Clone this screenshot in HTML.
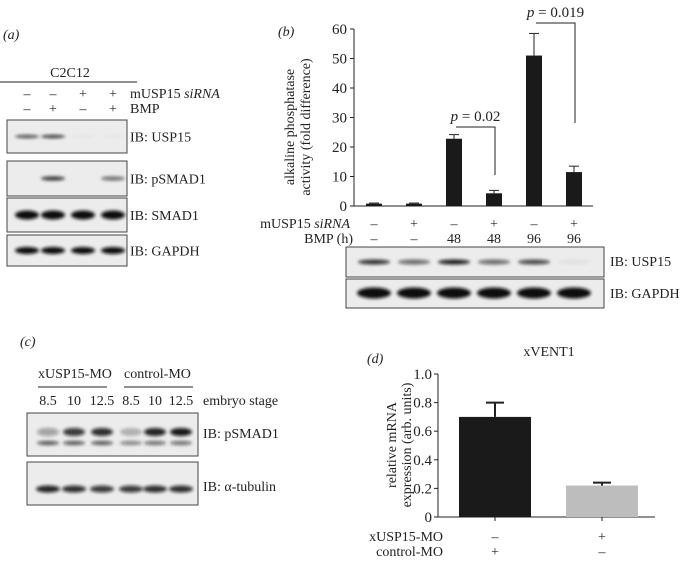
<!DOCTYPE html>
<html><head><meta charset="utf-8"><style>
body{margin:0;background:#fff;width:688px;height:561px;overflow:hidden}
svg{display:block}
text{font-family:"Liberation Serif",serif;fill:#222}
</style></head><body>
<svg id="fig" width="688" height="561" viewBox="0 0 688 561">
<defs><filter id="bl" x="-20%" y="-100%" width="140%" height="300%"><feGaussianBlur stdDeviation="1.6"/></filter></defs>
<g id="pa"></g>
<g id="pb"></g>
<g id="pc"></g>
<g id="pd"></g>
</svg>
<script>
// Panel b data
const bCats=['1','2','3','4','5','6'];
const bVals=[0.8,0.8,22.8,4.3,51,11.5];
const bErr=[0.2,0.2,1.4,1.0,7.5,2.0];
const bSi=['–','+','–','+','–','+'];
const bBmp=['–','–','48','48','96','96'];
const bTicks=[0,10,20,30,40,50,60];
// Panel d data
const dCats=['ctrl','xusp'];
const dVals=[0.70,0.22];
const dErr=[0.10,0.02];
const dTicks=['0','0.2','0.4','0.6','0.8','1.0'];
const dMO=['–','+'];
const dCtrl=['+','–'];

const NS='http://www.w3.org/2000/svg';
const FS=14;
function mk(p,tag,at,txt){const e=document.createElementNS(NS,tag);for(const k in at)e.setAttribute(k,at[k]);if(txt!==undefined)e.textContent=txt;p.appendChild(e);return e;}
function band(p,x,y,w,h,o){const e=mk(p,'ellipse',{cx:x,cy:y,rx:w/2,ry:h/2,fill:'#111','fill-opacity':o,filter:'url(#bl)'});

}
function box(p,x,y,w,h,name){const e=mk(p,'rect',{x:x,y:y,width:w,height:h,fill:'#ececec',stroke:'#444','stroke-width':1});

}

// ---- Panel a
const pa=document.getElementById('pa');
mk(pa,'text',{x:3,y:39,'font-size':FS,'font-style':'italic'},'(a)');
mk(pa,'text',{x:70,y:77,'font-size':FS,'text-anchor':'middle'},'C2C12');
mk(pa,'line',{x1:0,y1:82,x2:137,y2:82,stroke:'#222'});
const aX=[27,53,83,113];
['–','–','+','+'].forEach((s,i)=>mk(pa,'text',{x:aX[i],y:98,'font-size':FS,'text-anchor':'middle'},s));
['–','+','–','+'].forEach((s,i)=>mk(pa,'text',{x:aX[i],y:113,'font-size':FS,'text-anchor':'middle'},s));
const t1=mk(pa,'text',{x:130,y:98,'font-size':FS},'mUSP15 ');mk(t1,'tspan',{'font-style':'italic'},'siRNA');
mk(pa,'text',{x:130,y:113,'font-size':FS},'BMP');
const aBl=[['IB: USP15',120,33,[0.8,0.9,0.03,0.03],3],['IB: pSMAD1',161,35,[0,0.85,0,0.6],4],['IB: SMAD1',198,34,[1,1,1,1],9],['IB: GAPDH',235,31,[1,1,1,1],7]];
aBl.forEach(b=>{box(pa,7,b[1],120,b[2],'blot-a');b[3].forEach((o,i)=>{if(o>0)band(pa,aX[i],b[1]+b[2]/2,24,b[4],o)});
mk(pa,'text',{x:130,y:b[1]+b[2]/2+5,'font-size':FS},b[0]);});

// ---- Panel b
const pb=document.getElementById('pb');
const bx0=354,bx1=593,by0=206,byTop=29;
const yB=v=>by0-(v/60)*(by0-byTop);
const xB=i=>374+i*40;
mk(pb,'text',{x:278,y:36,'font-size':FS,'font-style':'italic'},'(b)');
mk(pb,'line',{x1:bx0,y1:yB(60),x2:bx0,y2:by0,stroke:'#222'});
mk(pb,'line',{x1:bx0,y1:by0,x2:bx1,y2:by0,stroke:'#222'});
bTicks.forEach(t=>{mk(pb,'line',{x1:bx0-4,y1:yB(t),x2:bx0,y2:yB(t),stroke:'#222'});
mk(pb,'text',{x:bx0-7,y:yB(t)+5,'font-size':15,'text-anchor':'end'},t);});
mk(pb,'text',{transform:'translate(294,127) rotate(-90)','font-size':FS,'text-anchor':'middle'},'alkaline phosphatase');
mk(pb,'text',{transform:'translate(310,127) rotate(-90)','font-size':FS,'text-anchor':'middle'},'activity (fold difference)');
bVals.forEach((v,i)=>{const x=xB(i);
const r=mk(pb,'rect',{x:x-8,y:yB(v),width:16,height:by0-yB(v),fill:'#1a1a1a'});


const top=yB(v+bErr[i]);
mk(pb,'line',{x1:x,y1:yB(v),x2:x,y2:top,stroke:'#222'});
mk(pb,'line',{x1:x-5,y1:top,x2:x+5,y2:top,stroke:'#222'});
mk(pb,'text',{x:x,y:228,'font-size':FS,'text-anchor':'middle'},bSi[i]);
mk(pb,'text',{x:x,y:243,'font-size':FS,'text-anchor':'middle'},bBmp[i]);});
const t2=mk(pb,'text',{x:350,y:228,'font-size':FS,'text-anchor':'end'},'mUSP15 ');mk(t2,'tspan',{'font-style':'italic'},'siRNA');
mk(pb,'text',{x:353,y:243,'font-size':FS,'text-anchor':'end'},'BMP (h)');
function brk(i,j,yTop,yDrop,label){const xa=xB(i)+2,xb=xB(j)+1;
mk(pb,'polyline',{points:`${xa},${yTop} ${xb},${yTop} ${xb},${yDrop}`,fill:'none',stroke:'#222'});
const t=mk(pb,'text',{x:(xa+xb)/2,y:yTop-6,'font-size':15,'text-anchor':'middle'});mk(t,'tspan',{'font-style':'italic'},'p');t.appendChild(document.createTextNode(' = '+label));}
brk(2,3,127,175,'0.02');brk(4,5,23,123,'0.019');
box(pb,346,247,258,30,'blot-b-usp15');box(pb,346,279,258,29,'blot-b-gapdh');
[0.85,0.6,0.95,0.6,0.75,0.05].forEach((o,i)=>band(pb,xB(i),262,32,5,o));
[1,1,1,1,1,1].forEach((o,i)=>band(pb,xB(i),293,34,11,o));
mk(pb,'text',{x:610,y:266,'font-size':FS},'IB: USP15');
mk(pb,'text',{x:610,y:298,'font-size':FS},'IB: GAPDH');

// ---- Panel c
const pc=document.getElementById('pc');
mk(pc,'text',{x:20,y:346,'font-size':FS,'font-style':'italic'},'(c)');
mk(pc,'text',{x:38,y:378,'font-size':FS},'xUSP15-MO');
mk(pc,'text',{x:124,y:378,'font-size':FS},'control-MO');
mk(pc,'line',{x1:38,y1:387,x2:107,y2:387,stroke:'#222'});
mk(pc,'line',{x1:124,y1:387,x2:193,y2:387,stroke:'#222'});
const cX=[48,74,102,131,155,181];
['8.5','10','12.5','8.5','10','12.5'].forEach((s,i)=>mk(pc,'text',{x:cX[i],y:405,'font-size':FS,'text-anchor':'middle'},s));
mk(pc,'text',{x:203,y:405,'font-size':FS},'embryo stage');
box(pc,27,413,171,43,'blot-c-psmad1');box(pc,27,462,171,43,'blot-c-tubulin');
[0.35,0.8,0.85,0.25,0.9,0.95].forEach((o,i)=>band(pc,cX[i],432,22,8,o));
[0.7,0.7,0.7,0.5,0.6,0.6].forEach((o,i)=>band(pc,cX[i],443,22,4,o));
[0.9,0.85,0.8,0.8,0.85,0.85].forEach((o,i)=>band(pc,cX[i],489,24,7,o));
mk(pc,'text',{x:203,y:438,'font-size':FS},'IB: pSMAD1');
mk(pc,'text',{x:203,y:491,'font-size':FS},'IB: α-tubulin');

// ---- Panel d
const pd=document.getElementById('pd');
const dx0=438,dx1=655,dy0=517,dyTop=374;
const yD=v=>dy0-v*(dy0-dyTop);
const xD=i=>495+i*107;
mk(pd,'text',{x:367,y:363,'font-size':FS,'font-style':'italic'},'(d)');
mk(pd,'text',{x:549,y:356,'font-size':FS,'text-anchor':'middle'},'xVENT1');
mk(pd,'line',{x1:dx0,y1:dyTop,x2:dx0,y2:dy0,stroke:'#222'});
mk(pd,'line',{x1:dx0,y1:dy0,x2:dx1,y2:dy0,stroke:'#222'});
dTicks.forEach(t=>{const y=yD(parseFloat(t));mk(pd,'line',{x1:dx0-4,y1:y,x2:dx0,y2:y,stroke:'#222'});
mk(pd,'text',{x:dx0-6,y:y+5,'font-size':15,'text-anchor':'end'},t);});
mk(pd,'text',{transform:'translate(396,445) rotate(-90)','font-size':FS,'text-anchor':'middle'},'relative mRNA');
mk(pd,'text',{transform:'translate(411,445) rotate(-90)','font-size':FS,'text-anchor':'middle'},'expression (arb. units)');
const dCol=['#1a1a1a','#bdbdbd'];
dVals.forEach((v,i)=>{const x=xD(i);
const top=yD(v+dErr[i]);
mk(pd,'line',{x1:x,y1:yD(v),x2:x,y2:top,stroke:'#222','stroke-width':2});
mk(pd,'line',{x1:x-9,y1:top,x2:x+9,y2:top,stroke:'#222','stroke-width':2});
const r=mk(pd,'rect',{x:x-36,y:yD(v),width:72,height:dy0-yD(v),fill:dCol[i]});


mk(pd,'line',{x1:x,y1:dy0,x2:x,y2:dy0+4,stroke:'#222'});
mk(pd,'text',{x:x,y:541,'font-size':FS,'text-anchor':'middle'},dMO[i]);
mk(pd,'text',{x:x,y:556,'font-size':FS,'text-anchor':'middle'},dCtrl[i]);});
mk(pd,'text',{x:443,y:541,'font-size':FS,'text-anchor':'end'},'xUSP15-MO');
mk(pd,'text',{x:443,y:556,'font-size':FS,'text-anchor':'end'},'control-MO');
</script>
</body></html>
